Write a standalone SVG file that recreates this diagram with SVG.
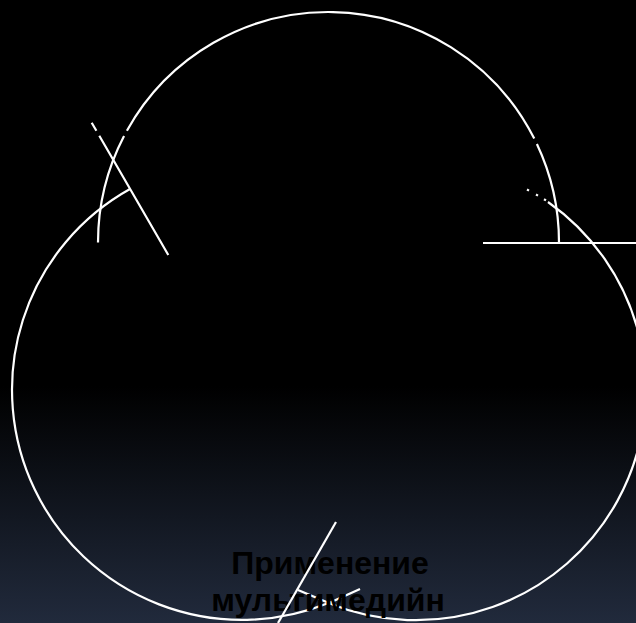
<svg xmlns="http://www.w3.org/2000/svg" width="636" height="623" viewBox="0 0 636 623">
  <defs>
    <linearGradient id="bg" x1="0" y1="0" x2="0" y2="1">
      <stop offset="0" stop-color="#000000"/>
      <stop offset="0.62" stop-color="#000000"/>
      <stop offset="1" stop-color="#212a3c"/>
    </linearGradient>
    <style>
      .ln { fill: none; stroke: #ffffff; stroke-width: 2.2; stroke-linecap: butt; }
      .lbl { font-family: "Liberation Sans", Arial, sans-serif; font-weight: bold; font-size: 32px; fill: #000000; text-anchor: middle; }
    </style>
  </defs>
  <rect x="0" y="0" width="636" height="623" fill="url(#bg)"/>

  <g id="arcs">
    <g id="arc-top">
      <path class="ln" d="M98,242.5 A230.5,230.5 0 0 1 124.04,136.07"/>
      <path class="ln" d="M126.9,130.75 A230.5,230.5 0 0 1 534.24,138.57"/>
      <path class="ln" d="M536.89,143.99 A230.5,230.5 0 0 1 559,242.5"/>
    </g>
    <g id="arc-left">
      <path class="ln" d="M130,189 A230,230 0 0 0 328.5,603"/>
    </g>
    <g id="arc-right">
      <path class="ln" d="M548,202 A230,230 0 0 1 328.5,603"/>
      <path class="ln" d="M527,189.5 L529,190.6 M536,194.5 L538,195.6 M544,199.2 L546,200.4"/>
    </g>
  </g>

  <g id="label">
    <path class="ln" d="M298,590 L329,603 L360,589"/>
    <text class="lbl" x="330" y="574">Применение</text>
    <text class="lbl" x="328" y="611">мультимедийн</text>
  </g>

  <g id="connectors">
    <path class="ln" d="M91.7,122.7 L96.4,130.8 M99.3,135.8 L168.3,255"/>
    <path class="ln" d="M483,243 L636,243"/>
    <path class="ln" d="M336,522 L278,623"/>
  </g>
</svg>
